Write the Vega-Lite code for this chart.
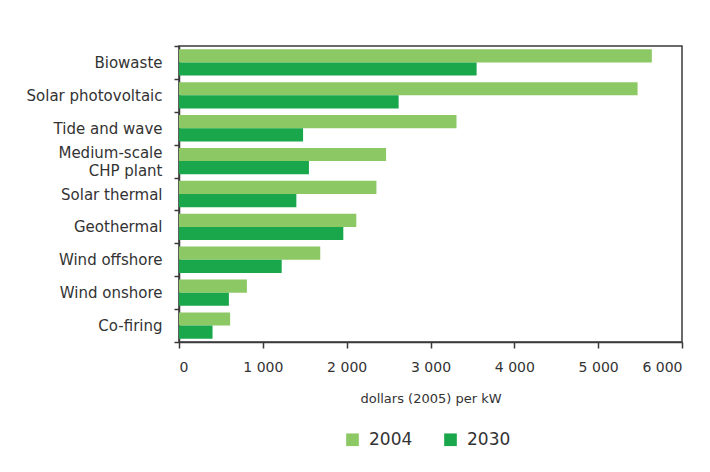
{
  "$schema": "https://vega.github.io/schema/vega-lite/v6.json",
  "width": 503,
  "height": 296,
  "autosize": {"type": "none"},
  "padding": {"left": 179, "top": 46, "right": 28, "bottom": 130},
  "background": "white",
  "config": {
    "font": "DejaVu Sans",
    "view": {"stroke": "#3a3a3a", "strokeWidth": 1.5},
    "axis": {"domainColor": "#3a3a3a", "domainWidth": 1.5, "tickColor": "#3a3a3a", "tickWidth": 1.5, "labelColor": "#333", "titleColor": "#333", "grid": false}
  },
  "data": {
    "values": [
      {"tech": "Biowaste", "year": "2004", "cost": 5640},
      {"tech": "Biowaste", "year": "2030", "cost": 3550},
      {"tech": "Solar photovoltaic", "year": "2004", "cost": 5470},
      {"tech": "Solar photovoltaic", "year": "2030", "cost": 2620},
      {"tech": "Tide and wave", "year": "2004", "cost": 3310},
      {"tech": "Tide and wave", "year": "2030", "cost": 1480},
      {"tech": "Medium-scale CHP plant", "year": "2004", "cost": 2470},
      {"tech": "Medium-scale CHP plant", "year": "2030", "cost": 1550},
      {"tech": "Solar thermal", "year": "2004", "cost": 2355},
      {"tech": "Solar thermal", "year": "2030", "cost": 1400},
      {"tech": "Geothermal", "year": "2004", "cost": 2115},
      {"tech": "Geothermal", "year": "2030", "cost": 1960},
      {"tech": "Wind offshore", "year": "2004", "cost": 1685},
      {"tech": "Wind offshore", "year": "2030", "cost": 1225},
      {"tech": "Wind onshore", "year": "2004", "cost": 810},
      {"tech": "Wind onshore", "year": "2030", "cost": 595},
      {"tech": "Co-firing", "year": "2004", "cost": 610},
      {"tech": "Co-firing", "year": "2030", "cost": 400}
    ]
  },
  "mark": {"type": "bar"},
  "encoding": {
    "y": {
      "field": "tech",
      "type": "nominal",
      "sort": null,
      "scale": {"paddingInner": 0, "paddingOuter": 0},
      "axis": {
        "title": null,
        "tickBand": "extent",
        "tickSize": 5,
        "labelPadding": 12,
        "labelFontSize": 15,
        "labelLineHeight": 18,
        "labelOffset": {"condition": {"test": "datum.value == 'Medium-scale CHP plant'", "value": -9}, "value": 0},
        "labelExpr": "datum.label == 'Medium-scale CHP plant' ? ['Medium-scale', 'CHP plant'] : datum.label"
      }
    },
    "yOffset": {
      "field": "year",
      "type": "nominal",
      "scale": {"paddingOuter": 0.25, "paddingInner": 0}
    },
    "x": {
      "field": "cost",
      "type": "quantitative",
      "scale": {"domain": [0, 6000], "nice": false},
      "axis": {
        "title": "dollars (2005) per kW",
        "values": [0, 1000, 2000, 3000, 4000, 5000, 6000],
        "tickSize": 6,
        "labelPadding": 12,
        "labelFontSize": 14,
        "labelExpr": "replace(format(datum.value, ','), ',', ' ')",
        "titleFontSize": 13,
        "titleFontWeight": "normal",
        "titlePadding": 18
      }
    },
    "color": {
      "field": "year",
      "type": "nominal",
      "scale": {"domain": ["2004", "2030"], "range": ["#8cc864", "#1aa64a"]},
      "legend": {
        "title": null,
        "orient": "none",
        "direction": "horizontal",
        "legendX": 165,
        "legendY": 385,
        "symbolType": "square",
        "symbolSize": 160,
        "symbolStrokeWidth": 0,
        "labelFontSize": 17,
        "labelColor": "#333",
        "columnPadding": 29,
        "labelOffset": 8
      }
    }
  }
}
